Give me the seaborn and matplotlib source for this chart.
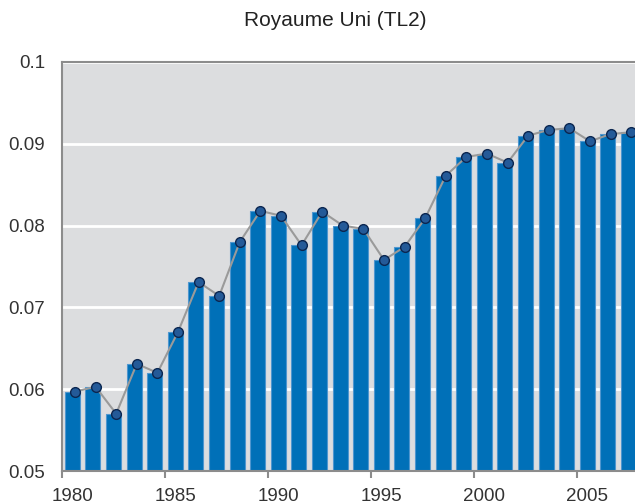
import numpy as np
import pandas as pd
import seaborn as sns
import matplotlib.pyplot as plt
from matplotlib.ticker import FixedLocator, FuncFormatter

# Data
years = list(range(1980, 2008))
values = [0.0597, 0.0603, 0.0570, 0.0631, 0.0620, 0.0670, 0.0731, 0.0714,
          0.0780, 0.0818, 0.0812, 0.0776, 0.0817, 0.0800, 0.0796, 0.0758,
          0.0774, 0.0809, 0.0861, 0.0884, 0.0888, 0.0877, 0.0910, 0.0917,
          0.0919, 0.0903, 0.0912, 0.0914]
label_years = [1980, 1985, 1990, 1995, 2000, 2005]

df = pd.DataFrame({'year': [str(y) for y in years], 'value': values})
# the line sits a little to the right of the bar centres in the original
df['pos'] = np.arange(len(df)) + 0.13

sns.set_style('white')
plt.rcParams['font.family'] = ['Liberation Sans', 'DejaVu Sans']

fig = plt.figure(figsize=(6.35, 5.03), dpi=100)
# plot area runs past the right edge of the picture, as in the reference
n_cat = 29
cat_px = 20.6
left_px, top_px, bottom_px = 62, 62, 471
ax = fig.add_axes([left_px / 635, (503 - bottom_px) / 503,
                   n_cat * cat_px / 635, (bottom_px - top_px) / 503])
ax.set_facecolor('#dcdddf')

# Draw bars
sns.barplot(data=df, x='year', y='value', color='#0070b8', width=0.73,
            saturation=1, edgecolor='#4f96cf', linewidth=0.8, ax=ax, zorder=2)

# Draw the line with markers on top
sns.lineplot(data=df, x='pos', y='value', color='#9a9a9a', linewidth=1.5,
             marker='o', markersize=7, markerfacecolor='#245a98',
             markeredgecolor='#0b2650', markeredgewidth=1.0, ax=ax, zorder=3)

ax.set_xlim(-0.5, n_cat - 0.5)
ax.set_ylim(0.05, 0.1)
ax.set_xlabel('')
ax.set_ylabel('')

# y axis
ax.set_yticks([0.05, 0.06, 0.07, 0.08, 0.09, 0.1])
ax.yaxis.set_major_formatter(FuncFormatter(lambda v, p: '%g' % round(v, 2)))
ax.tick_params(axis='y', length=0, pad=12, labelsize=13.5, colors='#333333')
ax.grid(axis='y', color='white', linewidth=2, zorder=1)
ax.set_axisbelow(True)

# x axis: labels every 5 years, tick marks between categories
ax.xaxis.set_major_locator(FixedLocator([years.index(y) for y in label_years]))
ax.set_xticklabels([str(y) for y in label_years])
ax.xaxis.set_minor_locator(FixedLocator(np.arange(-0.5, n_cat, 5)))
ax.tick_params(axis='x', which='major', length=0, pad=12, labelsize=13.5,
               colors='#333333')
ax.tick_params(axis='x', which='minor', length=5, width=1.5, color='#8c8c8c',
               direction='out', bottom=True)

for side in ['left', 'bottom', 'top']:
    ax.spines[side].set_color('#8c8c8c')
    ax.spines[side].set_linewidth(1.5)
ax.spines['right'].set_visible(False)

fig.text(335 / 635, 1 - 21 / 503, 'Royaume Uni (TL2)', ha='center',
         va='center', fontsize=15, color='#222222')

fig.savefig('out.png', dpi=100)
